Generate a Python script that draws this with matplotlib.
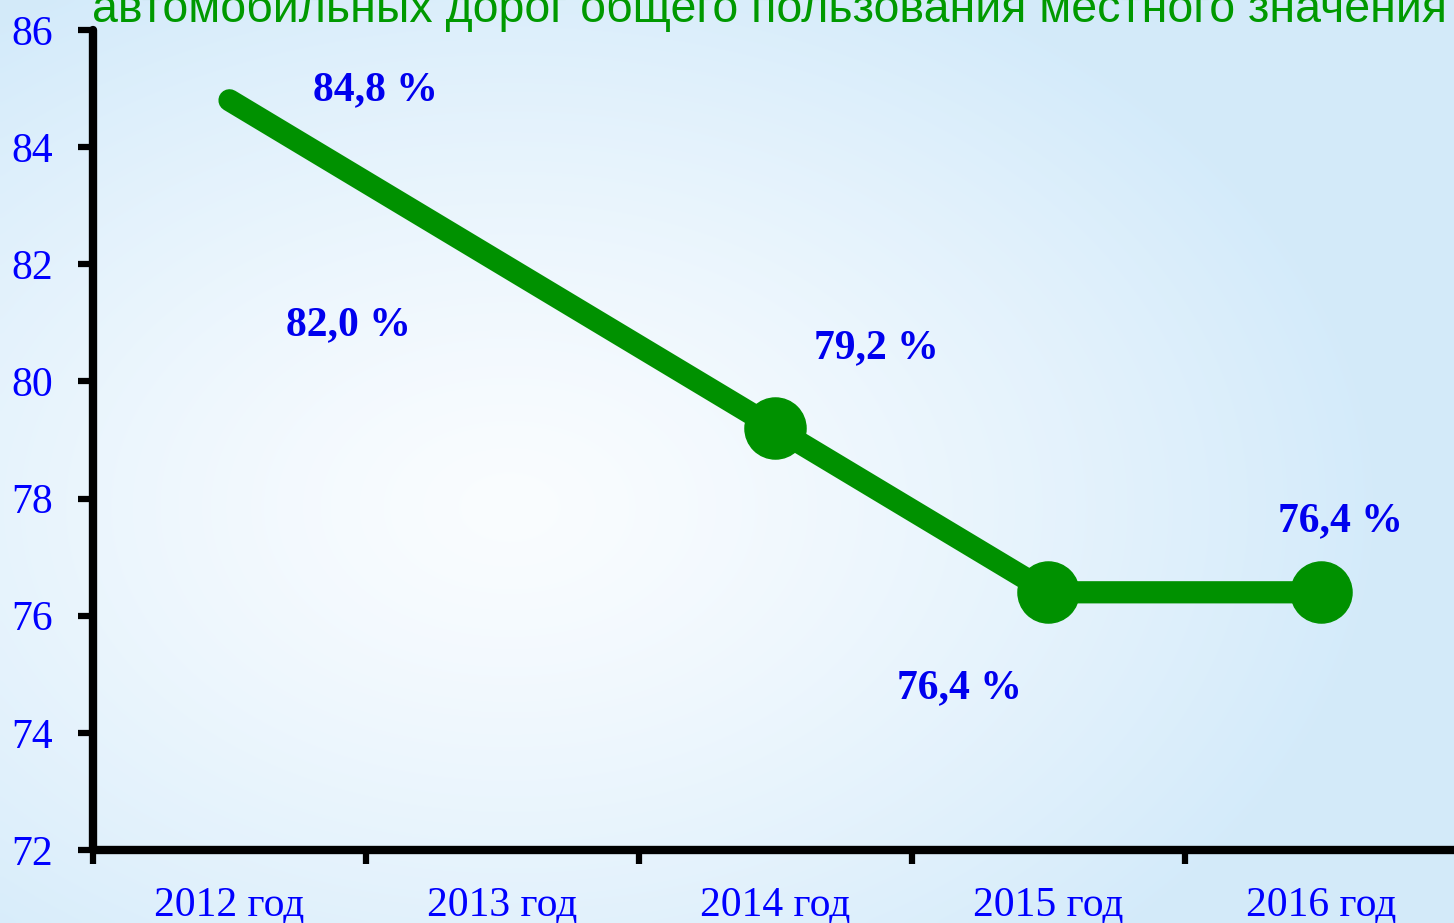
import numpy as np
import matplotlib.pyplot as plt

years = ["2012 год", "2013 год", "2014 год", "2015 год", "2016 год"]
values = [84.8, 82.0, 79.2, 76.4, 76.4]
labels = ["84,8 %", "82,0 %", "79,2 %", "76,4 %", "76,4 %"]
label_offsets = [(146, 10), (-154, -61), (101, 80), (-89, -96), (19, 71)]
title = "автомобильных дорог общего пользования местного значения"

W, H = 1454, 923


def background(fig):
    bg = fig.add_axes([0, 0, 1, 1], zorder=-10)
    yy, xx = np.mgrid[0:1:200j, 0:1:300j]
    light = np.array([0.98, 0.99, 1.0])
    blue = np.array([0.83, 0.92, 0.98])
    d = np.sqrt(((xx - 0.35) / 0.6) ** 2 + ((yy - 0.55) / 0.65) ** 2)
    w = np.clip(d, 0, 1)[..., None] ** 1.3
    img = light * (1 - w) + blue * w
    bg.imshow(img, aspect="auto", extent=[0, 1, 0, 1], interpolation="bicubic")
    bg.axis("off")


def main():
    fig = plt.figure(figsize=(W / 100, H / 100), dpi=100)
    background(fig)

    ax = fig.add_axes([93 / W, 1 - 850 / H, (1458 - 93) / W, 820 / H])
    ax.patch.set_alpha(0)

    x = np.arange(len(years))
    ax.plot(x, values, color="#009100", lw=16, solid_capstyle="round",
            marker="o", markersize=44, markevery=[2, 3, 4], zorder=3)

    for xi, v, lab, off in zip(x, values, labels, label_offsets):
        ax.annotate(lab, (xi, v), xytext=off, textcoords="offset pixels",
                    ha="center", va="center", fontsize=30, fontweight="bold",
                    family="Liberation Serif", color="#0000EE", zorder=4)

    ax.set_xlim(-0.5, 4.5)
    ax.set_ylim(72, 86)
    ax.set_yticks(np.arange(72, 87, 2))
    ax.set_xticks(np.arange(-0.5, 5, 1))
    ax.set_xticklabels([])
    ax.set_xticks(x, minor=True)
    ax.set_xticklabels(years, minor=True)

    for s in ["top", "right"]:
        ax.spines[s].set_visible(False)
    for s in ["left", "bottom"]:
        ax.spines[s].set_linewidth(6)
        ax.spines[s].set_capstyle("round")

    ax.tick_params(axis="y", direction="out", length=11, width=4.5,
                   pad=18, labelsize=30, labelcolor="#0000FF")
    ax.tick_params(axis="x", which="major", direction="out", length=10, width=4.5)
    ax.tick_params(axis="x", which="minor", length=0, pad=26,
                   labelsize=30, labelcolor="#0000FF")
    for t in ax.get_yticklabels() + ax.get_xticklabels(minor=True):
        t.set_family("Liberation Serif")

    fig.text(92 / W, 1 - 22 / H, title, ha="left", va="baseline",
             fontsize=33.5, color="#009900", family="Liberation Sans")

    fig.savefig("out.png", dpi=100)


if __name__ == '__main__':
    main()
